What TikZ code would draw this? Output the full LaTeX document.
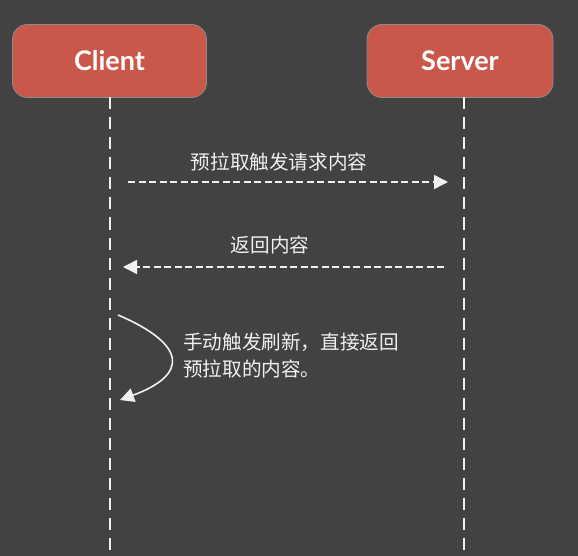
\documentclass[tikz,border=0pt]{standalone}
\usepackage{fontspec}
\newfontfamily\cjk{Noto Sans CJK SC}
\newfontfamily\boxfont{Lato}
\usetikzlibrary{arrows.meta}
\definecolor{bg}{HTML}{424242}
\definecolor{boxred}{HTML}{C9574A}
\definecolor{boxedge}{HTML}{8C8C8C}
\definecolor{ink}{HTML}{F0F0F0}
\tikzset{
  actor/.style={draw=boxedge, line width=0.8pt, fill=boxred, rounded corners=15pt,
    minimum width=#1, minimum height=73pt, inner sep=0pt, text=white,
    font=\boxfont\bfseries\fontsize{27}{30}\selectfont},
  lifeline/.style={draw=ink, line width=2pt, dash pattern=on 12pt off 8pt},
  msg/.style={draw=ink, line width=1.5pt, dash pattern=on 7pt off 3.5pt,
    -{Triangle[length=14pt, width=14pt]}},
  selfmsg/.style={draw=ink, line width=1.6pt, -{Triangle[length=14pt, width=14pt]}},
  lbl/.style={text=ink, font=\cjk\fontsize{19.6}{27}\selectfont, inner sep=0pt}
}
\begin{document}
\begin{tikzpicture}[x=1pt, y=-1pt]
\fill[bg] (0,0) rectangle (578,556);
\useasboundingbox (0,0) rectangle (578,556);
\node[actor=194pt] (client) at (109.5,61) {Client};
\node[actor=186pt] (server) at (460,61) {Server};
\coordinate (cend) at (110,556);
\coordinate (send) at (464,556);
\draw[lifeline] (110,97.5) -- (cend);
\draw[lifeline] (464,97.5) -- (send);
\coordinate (m1s) at (128,182);
\coordinate (m1e) at (448,182);
\draw[msg] (m1s) -- (m1e);
\node[lbl] (l1) at (279,162) {预拉取触发请求内容};
\coordinate (m2s) at (444,267);
\coordinate (m2e) at (123,267);
\draw[msg] (m2s) -- (m2e);
\node[lbl] (l2) at (270,245) {返回内容};
\coordinate (c1) at (118,315);
\coordinate (c2) at (120,400);
\draw[selfmsg] (c1) .. controls (188,345) and (188,375) .. (c2);
\node[lbl, anchor=west, align=left] (l3) at (183,356) {手动触发刷新，直接返回\\预拉取的内容。};
\end{tikzpicture}
\end{document}
